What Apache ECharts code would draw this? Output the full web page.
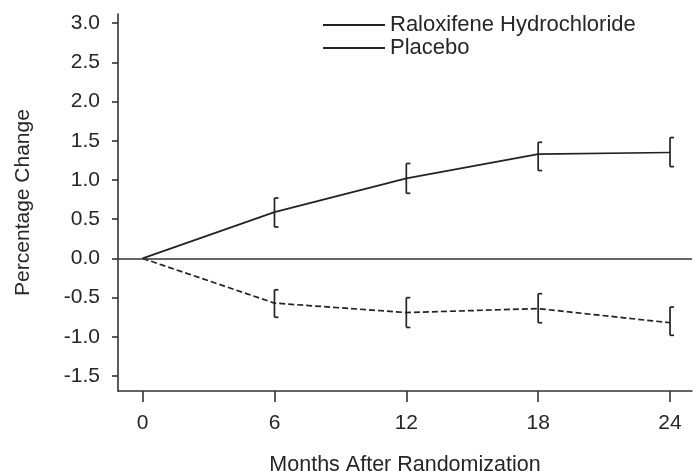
<!DOCTYPE html>
<html><head><meta charset="utf-8">
<script src="https://cdn.jsdelivr.net/npm/echarts@6/dist/echarts.min.js"></script>
<style>html,body{margin:0;padding:0;background:#fff}#c{width:693px;height:471px}</style>
</head><body><div id="c"></div>
<script>
const months = [0, 6, 12, 18, 24];
const yTicks = [-1.5, -1.0, -0.5, 0.0, 0.5, 1.0, 1.5, 2.0, 2.5, 3.0];
const raloxifene = [0, 0.59, 1.02, 1.33, 1.35];
const raloxLow  = [null, 0.40, 0.83, 1.12, 1.17];
const raloxHigh = [null, 0.77, 1.21, 1.48, 1.54];
const placebo = [0, -0.57, -0.69, -0.64, -0.82];
const placLow  = [null, -0.75, -0.88, -0.82, -0.98];
const placHigh = [null, -0.40, -0.50, -0.45, -0.62];
const names = ['Raloxifene Hydrochloride', 'Placebo'];

const FONT = "'Liberation Sans','Arial',sans-serif";
const TXT = '#262626';

function pairs(ys){ return months.map((m,i)=>[m, ys[i]]); }
function errData(lo, hi){ return months.map((m,i)=>[m, lo[i], hi[i]]).filter(d=>d[1]!=null); }
function errSeries(lo, hi){
  return {
    type:'custom', silent:true, z:5,
    data: errData(lo, hi),
    renderItem: function(params, api){
      const top = api.coord([api.value(0), api.value(2)]);
      const bot = api.coord([api.value(0), api.value(1)]);
      const cap = 4;
      const st = {stroke:'#222', lineWidth:1.7, fill:null};
      return {type:'group', children:[
        {type:'line', shape:{x1:top[0],y1:top[1],x2:bot[0],y2:bot[1]}, style:st},
        {type:'line', shape:{x1:top[0],y1:top[1],x2:top[0]+cap,y2:top[1]}, style:st},
        {type:'line', shape:{x1:bot[0],y1:bot[1],x2:bot[0]+cap,y2:bot[1]}, style:st}
      ]};
    }
  };
}

const chart = echarts.init(document.getElementById('c'));
chart.setOption({
  animation:false,
  textStyle:{fontFamily:FONT},
  grid:{left:118, right:1, top:14, bottom:80, containLabel:false, outerBoundsMode:'none'},
  legend:{
    orient:'vertical', left:318, top:9, itemWidth:62, itemHeight:2, itemGap:1,
    icon:'rect', data:names,
    textStyle:{fontFamily:FONT, fontSize:22, color:TXT}
  },
  xAxis:{
    type:'value', min:-1.12, max:25.0,
    name:'Months After Randomization', nameLocation:'middle', nameGap:63,
    nameTextStyle:{fontFamily:FONT, fontSize:21.5, color:TXT},
    axisLine:{show:true, onZero:false, lineStyle:{color:'#333', width:1.6}},
    axisTick:{show:true, customValues:months, length:11, lineStyle:{color:'#333', width:1.6}},
    axisLabel:{customValues:months, fontFamily:FONT, fontSize:21, color:TXT, margin:22},
    splitLine:{show:false}
  },
  yAxis:{
    type:'value', min:-1.69, max:3.115,
    name:'Percentage Change', nameLocation:'middle', nameGap:84, nameRotate:90,
    nameTextStyle:{fontFamily:FONT, fontSize:21, color:TXT},
    axisLine:{show:true, onZero:false, lineStyle:{color:'#333', width:1.6}},
    axisTick:{show:true, customValues:yTicks, length:6, lineStyle:{color:'#333', width:1.6}},
    axisLabel:{customValues:yTicks, fontFamily:FONT, fontSize:21, color:TXT, margin:18,
      formatter:v=>v.toFixed(1)},
    splitLine:{show:false}
  },
  series:[
    {name:names[0], type:'line', data:pairs(raloxifene), symbol:'none', z:4,
      itemStyle:{color:'#222'}, lineStyle:{color:'#222', width:1.7, type:'solid'},
      markLine:{silent:true, symbol:'none', label:{show:false},
        lineStyle:{color:'#333', width:1.6, type:'solid'}, data:[{yAxis:0}]}},
    {name:names[1], type:'line', data:pairs(placebo), symbol:'none', z:4,
      itemStyle:{color:'#222'}, lineStyle:{color:'#222', width:1.7, type:[6,3]}},
    errSeries(raloxLow, raloxHigh),
    errSeries(placLow, placHigh)
  ]
});
</script></body></html>
